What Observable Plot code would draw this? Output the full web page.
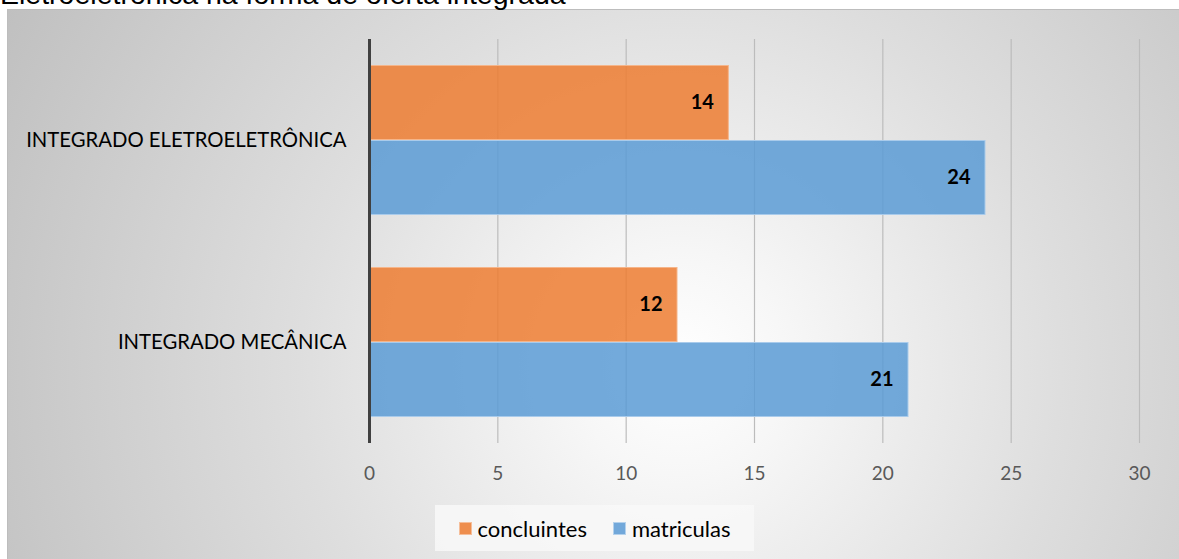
<!DOCTYPE html>
<html>
<head>
<meta charset="utf-8">
<script src="https://cdn.jsdelivr.net/npm/d3@7"></script>
<script src="https://cdn.jsdelivr.net/npm/@observablehq/plot@0.6"></script>
<style>
  html, body { margin: 0; padding: 0; background: #fff; }
  #wrap { position: relative; width: 1179px; height: 559px; overflow: hidden; background: #fff; }
  #title { position: absolute; z-index: 2; left: 0; top: -20px; font-family: "Liberation Sans", Arial, sans-serif; font-size: 28.5px; line-height: 28.5px; color: #000; white-space: nowrap; }
  #box { position: absolute; left: 7px; top: 9px; width: 1180px; height: 560px; box-sizing: border-box;
         border-top: 1px solid #bdbdbd; border-left: 1px solid #bdbdbd;
         background: radial-gradient(circle farthest-corner at 57% 64%, #ffffff 0%, #f7f7f7 14%, #dedede 50%, #c0c0c0 100%); }
  #chart { position: absolute; left: 0; top: 0; }
  #legend { position: absolute; left: 435px; top: 505px; width: 319px; height: 46px; background: rgba(248,248,248,0.85);
            display: flex; align-items: center; justify-content: center; gap: 26px;
            font-family: Lato, "Open Sans", sans-serif; font-size: 22px; color: #000; }
  .item { display: flex; align-items: center; gap: 6px; }
  .sw { width: 13px; height: 13px; box-sizing: border-box; }
</style>
</head>
<body>
<div id="wrap">
  <div id="box"></div>
  <div id="chart"></div>
  <div id="legend"></div>
  <div id="title">Eletroeletrônica na forma de oferta integrada</div>
</div>
<script>
const categories = ["INTEGRADO ELETROELETRÔNICA", "INTEGRADO MECÂNICA"];
const series = ["concluintes", "matriculas"];
const concluintes = [14, 12];
const matriculas = [24, 21];
const xTicks = [0, 5, 10, 15, 20, 25, 30];
const gridTicks = [5, 10, 15, 20, 25, 30];
const fills = ["#ED7D31", "#5B9BD5"];
const strokes = ["#F5B58A", "#A9CBEB"];

const rows = [];
categories.forEach((c, i) => {
  rows.push({category: c, series: series[0], value: concluintes[i]});
  rows.push({category: c, series: series[1], value: matriculas[i]});
});

const chart = Plot.plot({
  width: 1179,
  height: 500,
  marginLeft: 369,
  marginRight: 40,
  marginTop: 38,
  marginBottom: 57,
  style: {background: "transparent", fontFamily: "Lato, 'Open Sans', sans-serif"},
  x: {domain: [0, 30], ticks: xTicks, label: null},
  y: {domain: series, paddingInner: 0, paddingOuter: 0.33, axis: null},
  fy: {domain: categories, padding: 0, label: null},
  color: {domain: series, range: fills},
  marks: [
    Plot.ruleX(gridTicks, {stroke: "#bcbcbc", strokeWidth: 1.2}),
    Plot.barX(rows, {x: "value", y: "series", fy: "category", fill: "series", fillOpacity: 0.85,
                     stroke: d => strokes[series.indexOf(d.series)], strokeWidth: 1, insetTop: 0.5, insetBottom: 0.5}),
    Plot.text(rows, {x: "value", y: "series", fy: "category", text: d => String(d.value),
                     textAnchor: "end", dx: -15, fontWeight: "bold", fontSize: 20, fill: "#000"}),
    Plot.ruleX([0], {stroke: "#404040", strokeWidth: 3}),
    Plot.axisX({ticks: xTicks, tickSize: 0, tickPadding: 23, fontSize: 19, color: "#595959", label: null}),
    Plot.axisFy({anchor: "left", tickSize: 0, tickPadding: 23, fontSize: 20.3, color: "#000", label: null})
  ]
});
document.getElementById("chart").appendChild(chart);

const legend = document.getElementById("legend");
series.forEach((s, i) => {
  const it = document.createElement("div");
  it.className = "item";
  const sw = document.createElement("div");
  sw.className = "sw";
  sw.style.background = fills[i];
  sw.style.opacity = 0.85;
  sw.style.border = "1px solid " + strokes[i];
  const t = document.createElement("span");
  t.textContent = s;
  it.appendChild(sw);
  it.appendChild(t);
  legend.appendChild(it);
});
</script>
</body>
</html>
